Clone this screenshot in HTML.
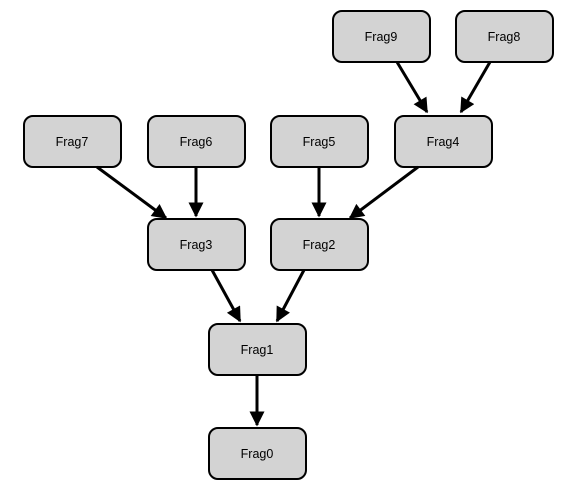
<!DOCTYPE html>
<html><head><style>body{margin:0;background:#fff}svg{display:block}</style></head><body>
<svg width="568" height="497" viewBox="0 0 568 497" xmlns="http://www.w3.org/2000/svg">
<defs><marker id="a" viewBox="0 0 10 10" refX="9" refY="5" markerWidth="5.5" markerHeight="5" orient="auto"><path d="M0,0L10,5L0,10z" fill="#000"/></marker></defs>
<g fill="#d3d3d3" stroke="#000" stroke-width="2">
<rect x="333" y="11" width="97" height="51" rx="9"/>
<rect x="456" y="11" width="97" height="51" rx="9"/>
<rect x="24" y="116" width="97" height="51" rx="9"/>
<rect x="148" y="116" width="97" height="51" rx="9"/>
<rect x="271" y="116" width="97" height="51" rx="9"/>
<rect x="395" y="116" width="97" height="51" rx="9"/>
<rect x="148" y="219" width="97" height="51" rx="9"/>
<rect x="271" y="219" width="97" height="51" rx="9"/>
<rect x="209" y="324" width="97" height="51" rx="9"/>
<rect x="209" y="428" width="97" height="51" rx="9"/>
</g>
<g stroke="#000" stroke-width="3" marker-end="url(#a)">
<line x1="397" y1="62" x2="427" y2="112"/>
<line x1="490" y1="62" x2="461" y2="112"/>
<line x1="418" y1="167" x2="350" y2="218"/>
<line x1="319" y1="167" x2="319" y2="216"/>
<line x1="196" y1="167" x2="196" y2="216"/>
<line x1="97" y1="167" x2="166" y2="218"/>
<line x1="212" y1="270" x2="240" y2="321"/>
<line x1="304" y1="270" x2="277" y2="321"/>
<line x1="257" y1="375" x2="257" y2="425"/>
</g>
<g font-family="Liberation Sans, sans-serif" font-size="12.5" text-anchor="middle">
<text x="381" y="41">Frag9</text>
<text x="504" y="41">Frag8</text>
<text x="72" y="146">Frag7</text>
<text x="196" y="146">Frag6</text>
<text x="319" y="146">Frag5</text>
<text x="443" y="146">Frag4</text>
<text x="196" y="249">Frag3</text>
<text x="319" y="249">Frag2</text>
<text x="257" y="354">Frag1</text>
<text x="257" y="458">Frag0</text>
</g>
</svg>
</body></html>
